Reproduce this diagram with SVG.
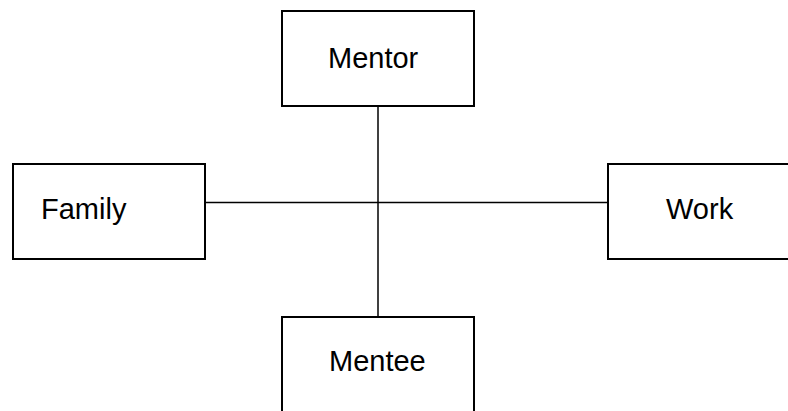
<svg xmlns="http://www.w3.org/2000/svg" width="788" height="411" viewBox="0 0 788 411">
<style>
.box{fill:#fff;stroke:#000;stroke-width:2}
.lbl{font-family:"Liberation Sans",Arial,sans-serif;font-size:29px;fill:#000}
.con{stroke:#000;stroke-width:1.5;fill:none}
</style>
<rect width="788" height="411" fill="#fff"/>
<g id="connectors">
<line class="con" x1="378" y1="106" x2="378" y2="317"/>
<line class="con" x1="205" y1="202.5" x2="608" y2="202.5"/>
</g>
<g id="mentor">
<rect class="box" x="282" y="11" width="192" height="95"/>
<text class="lbl" x="328" y="68">Mentor</text>
</g>
<g id="family">
<rect class="box" x="13" y="164" width="192" height="95"/>
<text class="lbl" x="41" y="219">Family</text>
</g>
<g id="work">
<rect class="box" x="608" y="164" width="192" height="95"/>
<text class="lbl" x="666" y="219">Work</text>
</g>
<g id="mentee">
<rect class="box" x="282" y="317" width="192" height="110"/>
<text class="lbl" x="329" y="371">Mentee</text>
</g>
</svg>
